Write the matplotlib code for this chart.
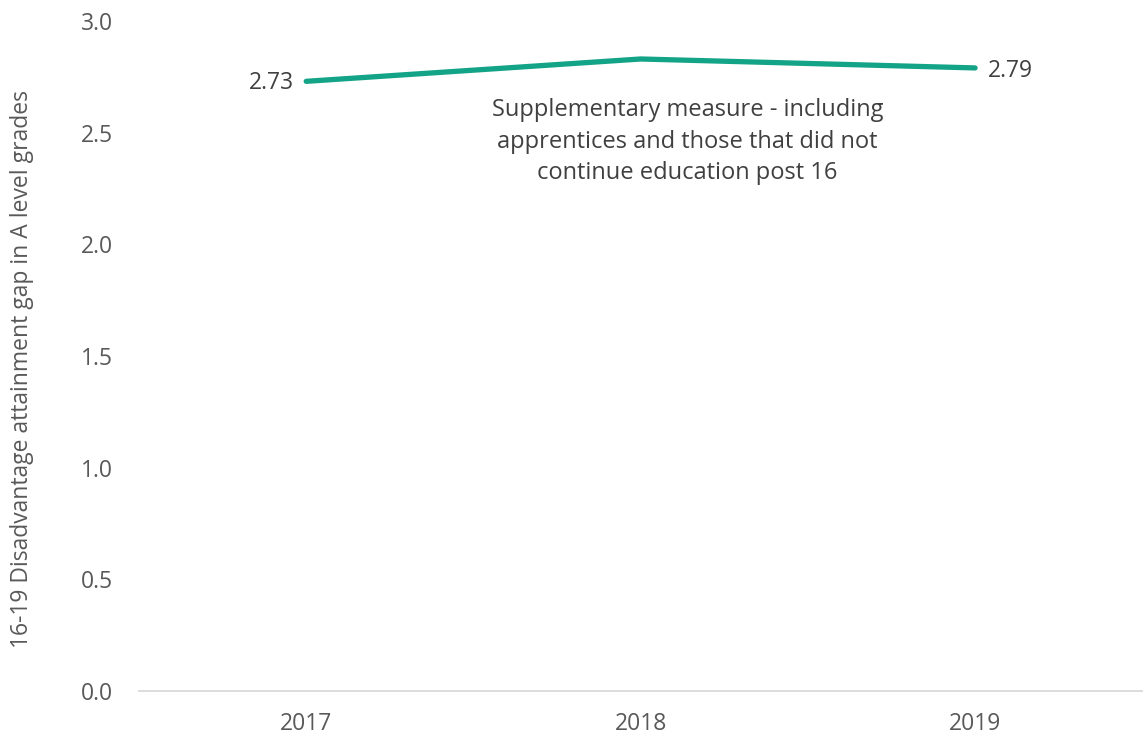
import matplotlib.pyplot as plt

years = ['2017', '2018', '2019']
gap = [2.73, 2.83, 2.79]
y_ticks = [0.0, 0.5, 1.0, 1.5, 2.0, 2.5, 3.0]

note = ('Supplementary measure - including\n'
        'apprentices and those that did not\n'
        'continue education post 16')

plt.rcParams['font.family'] = ['Open Sans', 'DejaVu Sans']

fig = plt.figure(figsize=(11.44, 7.4), dpi=100)
ax = fig.add_axes([0.1215, 0.066, 0.877, 0.9056])

x = list(range(len(years)))
ax.plot(x, gap, color='#13A386', linewidth=3.8, solid_capstyle='round')

# data labels on the first and last points
ax.annotate(f'{gap[0]:.2f}', (x[0], gap[0]), xytext=(-9, -1), textcoords='offset points',
            ha='right', va='center', fontsize=16.5, color='#404040')
ax.annotate(f'{gap[-1]:.2f}', (x[-1], gap[-1]), xytext=(9, -2), textcoords='offset points',
            ha='left', va='center', fontsize=16.5, color='#404040')

ax.text(1.14, 2.46, note, ha='center', va='center', fontsize=17, color='#404040',
        linespacing=1.42)

ax.set_xlim(-0.5, 2.5)
ax.set_ylim(0, 3.0)
ax.set_xticks(x)
ax.set_xticklabels(years)
ax.set_yticks(y_ticks)
ax.set_yticklabels([f'{v:.1f}' for v in y_ticks])

ax.tick_params(axis='both', length=0, labelsize=16.5, labelcolor='#595959')
ax.tick_params(axis='x', pad=15)
ax.tick_params(axis='y', pad=19)

for side in ['top', 'right', 'left']:
    ax.spines[side].set_visible(False)
ax.spines['bottom'].set_color('#D9D9D9')
ax.spines['bottom'].set_linewidth(1.3)

ax.set_ylabel('16-19 Disadvantage attainment gap in A level grades', fontsize=16.5,
              color='#595959')
ax.yaxis.set_label_coords(-0.105, 0.48)

fig.savefig('out.png', dpi=100)
